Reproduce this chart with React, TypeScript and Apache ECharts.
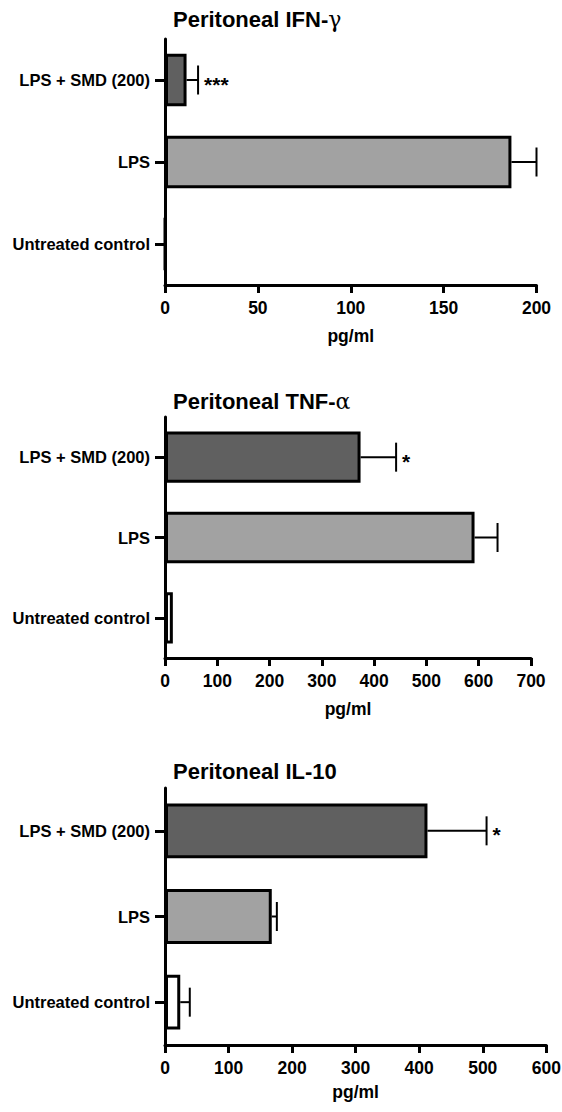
import React, { useEffect, useRef } from "react";
import * as echarts from "echarts";

const categories = ["Untreated control", "LPS", "LPS + SMD (200)"];
const barColors = ["#ffffff", "#a2a2a2", "#606060"];

const titles = ["Peritoneal IFN-{g|γ}", "Peritoneal TNF-{g|α}", "Peritoneal IL-10"];

const ifnMean = [0, 186.5, 11.6];
const ifnErr = [0, 13.5, 6.2];
const ifnSig = ["", "", "***"];

const tnfMean = [15, 592, 374];
const tnfErr = [0, 44, 68];
const tnfSig = ["", "", "*"];

const il10Mean = [24, 168, 413];
const il10Err = [15, 8, 93];
const il10Sig = ["", "", "*"];

const ifnTicks = { max: 200, interval: 50 };
const tnfTicks = { max: 700, interval: 100 };
const il10Ticks = { max: 600, interval: 100 };

const axisName = "pg/ml";

const SANS = "'Liberation Sans', Arial, sans-serif";

const panels = [
  { mean: ifnMean, err: ifnErr, sig: ifnSig, ticks: ifnTicks, grid: { left: 165, top: 39, width: 371.5, height: 246 }, titleTop: 8, nameGap: 42 },
  { mean: tnfMean, err: tnfErr, sig: tnfSig, ticks: tnfTicks, grid: { left: 165, top: 417, width: 366, height: 241 }, titleTop: 390, nameGap: 42 },
  { mean: il10Mean, err: il10Err, sig: il10Sig, ticks: il10Ticks, grid: { left: 165, top: 788, width: 381.3, height: 257 }, titleTop: 760, nameGap: 38 },
];

export default function App() {
  const ref = useRef<HTMLDivElement>(null);
  useEffect(() => {
    if (!ref.current) return;
    const chart = echarts.init(ref.current, null, { renderer: "svg" });
    const axisLine = { show: true, lineStyle: { color: "#000", width: 3 } };
    const option: any = {
      animation: false,
      backgroundColor: "#ffffff",
      title: panels.map((p, i) => ({
        text: titles[i],
        left: 173,
        top: p.titleTop,
        padding: 0,
        textStyle: {
          fontSize: 22,
          fontWeight: "bold",
          fontFamily: SANS,
          color: "#000",
          rich: { g: { fontSize: 22, fontWeight: "normal", fontFamily: "'DejaVu Serif', serif", color: "#000" } },
        },
      })),
      grid: panels.map((p) => ({ ...p.grid, containLabel: false, outerBoundsMode: "none" })),
      xAxis: panels.map((p, i) => ({
        type: "value",
        gridIndex: i,
        min: 0,
        max: p.ticks.max,
        interval: p.ticks.interval,
        splitLine: { show: false },
        axisLine,
        axisTick: { show: true, length: 8, lineStyle: { color: "#000", width: 3 } },
        axisLabel: { margin: 14, fontSize: 17.5, fontWeight: "bold", fontFamily: SANS, color: "#000" },
        name: axisName,
        nameLocation: "middle",
        nameGap: p.nameGap,
        nameTextStyle: { fontSize: 17.5, fontWeight: "bold", fontFamily: SANS, color: "#000" },
      })),
      yAxis: panels.map((_, i) => ({
        type: "category",
        gridIndex: i,
        data: categories,
        axisLine,
        axisTick: { show: true, alignWithLabel: true, length: 10, lineStyle: { color: "#000", width: 3 } },
        axisLabel: { margin: 15, fontSize: 16.5, fontWeight: "bold", fontFamily: SANS, color: "#000" },
        splitLine: { show: false },
      })),
      series: [
        ...panels.map((p, i) => ({
          type: "bar",
          xAxisIndex: i,
          yAxisIndex: i,
          barCategoryGap: "36%",
          data: p.mean.map((v, k) => ({
            value: v,
            itemStyle: { color: barColors[k], borderColor: "#000", borderWidth: 3 },
          })),
          z: 2,
        })),
        ...panels.map((p, i) => ({
          type: "custom",
          xAxisIndex: i,
          yAxisIndex: i,
          z: 3,
          data: p.mean.map((v, k) => [v, k, p.err[k]]),
          renderItem: (params: any, api: any) => {
            const v = api.value(0);
            const c = api.value(1);
            const e = api.value(2);
            const s = api.coord([v, c]);
            const t = api.coord([v + e, c]);
            const children: any[] = [];
            const st = { stroke: "#000", lineWidth: 2 };
            if (e > 0) {
              children.push({ type: "line", shape: { x1: s[0], y1: s[1], x2: t[0], y2: t[1] }, style: st });
              children.push({ type: "line", shape: { x1: t[0], y1: t[1] - 14.5, x2: t[0], y2: t[1] + 14.5 }, style: st });
            }
            const sig = p.sig[params.dataIndex];
            if (sig) {
              children.push({
                type: "text",
                x: t[0] + 6,
                y: t[1] + 4,
                style: { text: sig, fontSize: 21, fontWeight: "bold", fontFamily: SANS, fill: "#000", verticalAlign: "middle", align: "left" },
              });
            }
            return { type: "group", children };
          },
        })),
      ],
    };
    chart.setOption(option);
    return () => chart.dispose();
  }, []);
  return <div ref={ref} style={{ position: "absolute", left: 0, top: 0, width: 562, height: 1112 }} />;
}
